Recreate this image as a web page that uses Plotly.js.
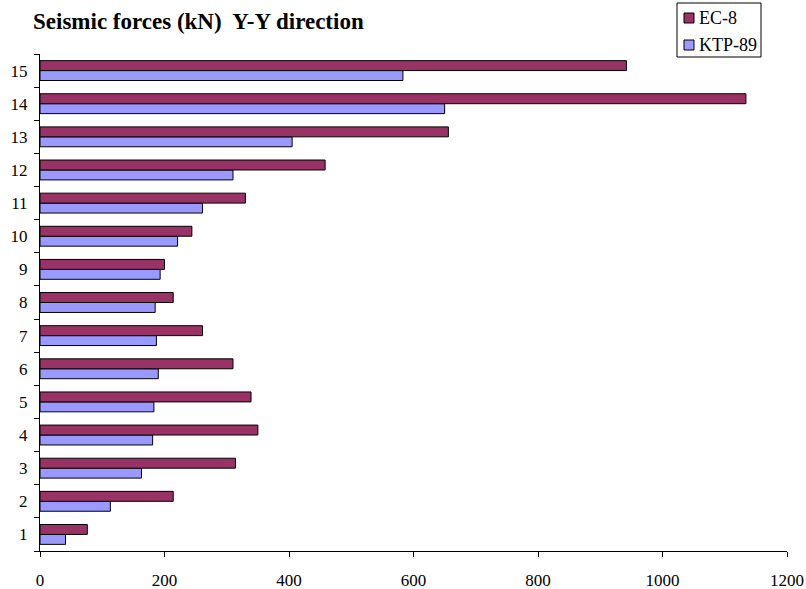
<!DOCTYPE html>
<html>
<head>
<meta charset="utf-8">
<script src="https://cdn.plot.ly/plotly-3.0.1.min.js"></script>
<style>html,body{margin:0;padding:0;background:#fff;}#chart{width:806px;height:589px;}</style>
</head>
<body>
<div id="chart"></div>
<script>
const floors = ['1','2','3','4','5','6','7','8','9','10','11','12','13','14','15'];
const ec8 = [76, 214, 314, 350, 339, 310, 261, 214, 200, 244, 330, 458, 656, 1134, 942];
const ktp89 = [41, 113, 163, 181, 183, 190, 187, 185, 193, 221, 261, 310, 405, 650, 583];
const seriesNames = ['EC-8', 'KTP-89'];
const seriesColors = ['#993366', '#9999FF'];

const serif = 'Liberation Serif, Times New Roman, serif';
const traces = [
  {type:'bar', orientation:'h', name:seriesNames[1], y:floors, x:ktp89,
   marker:{color:seriesColors[1], line:{color:'#000000', width:1}}},
  {type:'bar', orientation:'h', name:seriesNames[0], y:floors, x:ec8,
   marker:{color:seriesColors[0], line:{color:'#000000', width:1}}}
];

// custom legend (pixel helpers relative to plot area 40..787 x, 54..551 y)
const px = p => (p - 40) / 747;
const py = p => (551 - p) / 497;
const shapes = [
  {type:'rect', xref:'paper', yref:'paper', x0:px(677), x1:px(761), y0:py(57), y1:py(3),
   line:{color:'#000', width:1}, fillcolor:'#fff'}
];
const annotations = [];
const rowY = [18, 45];
seriesNames.forEach((n, i) => {
  shapes.push({type:'rect', xref:'paper', yref:'paper', x0:px(684), x1:px(694),
    y0:py(rowY[i] + 5), y1:py(rowY[i] - 5), line:{color:'#000', width:1}, fillcolor:seriesColors[i]});
  annotations.push({xref:'paper', yref:'paper', x:px(697), y:py(rowY[i]), xanchor:'left', yanchor:'middle',
    text:n, showarrow:false, font:{family:serif, size:18, color:'#000'}});
});

const layout = {
  width:806, height:589,
  margin:{l:40, r:19, t:54, b:38},
  paper_bgcolor:'#ffffff', plot_bgcolor:'#ffffff',
  font:{family:serif, size:17, color:'#000'},
  title:{text:'<b>Seismic forces (kN)  Y-Y direction</b>', x:33/806, xanchor:'left', y:1-21/589, yanchor:'middle',
         font:{family:serif, size:23, color:'#000'}},
  barmode:'group', bargap:0.4, bargroupgap:0,
  showlegend:false,
  shapes:shapes, annotations:annotations,
  xaxis:{range:[0,1200], dtick:200, tick0:0, showgrid:false, zeroline:false,
         showline:true, linecolor:'#000', linewidth:1, ticks:'outside', ticklen:5, tickcolor:'#000',
         ticklabelstandoff:9, tickfont:{family:serif, size:17}, fixedrange:true},
  yaxis:{type:'category', showgrid:false, zeroline:false, showline:true, linecolor:'#000', linewidth:1,
         ticks:'outside', ticklen:5, tickcolor:'#000', tickson:'boundaries', ticklabelstandoff:8,
         tickfont:{family:serif, size:17}, fixedrange:true}
};
Plotly.newPlot('chart', traces, layout, {displayModeBar:false, staticPlot:true});
</script>
</body>
</html>
